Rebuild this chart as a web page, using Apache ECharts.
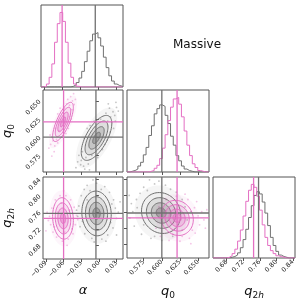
<!DOCTYPE html>
<html><head><meta charset="utf-8">
<script src="https://cdn.jsdelivr.net/npm/echarts@6/dist/echarts.min.js"></script>
<style>html,body{margin:0;padding:0;background:#fff}#c{width:307px;height:301px}</style>
</head><body><div id="c"></div>
<script>
// ---- axis ranges and ticks ----
const alphaRange = [-0.095, 0.041];
const q0Range = [0.552, 0.665];
const q2hRange = [0.647, 0.845];
const alphaTicks = [-0.09, -0.06, -0.03, 0.00, 0.03];
const q0Ticks = [0.575, 0.600, 0.625, 0.650];
const q2hTicks = [0.68, 0.72, 0.76, 0.80, 0.84];

// ---- histogram bins: [start, width], 30 bins ----
const alphaBins = [-0.095, 0.0045];
const q0Bins = [0.552, 0.00375];
const q2hBins = [0.647, 0.0066];

// ---- 1D histogram counts ----
const grayAlphaHist = [0,0,0,0,0,0,0,0,0,0,0,1,3,6,12,21,34,48,62,71,73,66,55,40,26,15,8,4,2,1];
const pinkAlphaHist = [0,1,4,13,31,60,85,100,88,60,32,13,4,1,0,0,0,0,0,0,0,0,0,0,0,0,0,0,0,0];
const grayQ0Hist = [0,1,2,4,8,13,23,33,49,62,78,85,90,88,76,65,48,36,22,15,8,4,2,1,0,0,0,0,0,0];
const pinkQ0Hist = [0,0,0,0,0,0,0,0,1,2,5,9,18,32,50,69,87,98,100,91,74,55,36,22,11,6,2,1,0,0];
const grayQ2hHist = [0,0,0,0,0,0,1,2,4,7,14,25,39,55,71,85,90,87,76,61,44,28,17,9,4,2,1,0,0,0];
const pinkQ2hHist = [0,0,0,0,0,1,3,6,12,23,38,57,77,92,100,96,84,65,45,28,17,10,6,3,2,1,0,0,0,0];

// ---- truth values [alpha, q0, q2h] ----
const truthGray = [-0.005, 0.600, 0.757];
const truthPink = [-0.060, 0.621, 0.745];

// ---- 2D contour shapes: [cx, cy, sx, sy, rho] ----
const grayAlphaQ0 = [-0.004, 0.599, 0.013, 0.0155, 0.64];
const pinkAlphaQ0 = [-0.061, 0.621, 0.0088, 0.0135, 0.74];
const grayAlphaQ2h = [-0.004, 0.757, 0.0125, 0.027, -0.05];
const pinkAlphaQ2h = [-0.061, 0.745, 0.0088, 0.025, -0.10];
const grayQ0Q2h = [0.599, 0.757, 0.0135, 0.025, -0.10];
const pinkQ0Q2h = [0.621, 0.745, 0.0112, 0.0215, -0.10];
const contourLevels = [2, 1.5, 1, 0.5];
const fillAlphas = [0.03, 0.14, 0.22, 0.38];
const haloLevel = 2.7, haloAlpha = 0.07;

// ---- scattered samples outside contours ----
const grayAlphaQ0Pts = [[0.020,0.628],[0.024,0.635],[0.018,0.640],[0.027,0.630],[0.015,0.622],[0.030,0.641],[0.022,0.620],[0.012,0.633],[0.028,0.622],[0.033,0.636],[-0.030,0.568],[-0.026,0.560],[-0.034,0.575],[-0.022,0.572],[-0.028,0.580],[-0.018,0.563],[-0.031,0.562],[-0.024,0.556],[-0.036,0.566],[0.006,0.583],[0.010,0.590],[-0.020,0.612],[-0.015,0.616],[0.014,0.596],[-0.025,0.598],[0.019,0.607],[-0.012,0.575],[0.003,0.625],[-0.008,0.622],[0.025,0.612],[-0.002,0.572],[0.029,0.648],[-0.039,0.558],[0.016,0.646],[-0.016,0.555]];
const pinkAlphaQ0Pts = [[-0.045,0.650],[-0.048,0.656],[-0.042,0.645],[-0.050,0.644],[-0.046,0.638],[-0.053,0.652],[-0.040,0.652],[-0.055,0.646],[-0.078,0.595],[-0.082,0.590],[-0.075,0.588],[-0.080,0.600],[-0.072,0.597],[-0.085,0.585],[-0.076,0.580],[-0.070,0.592],[-0.083,0.603],[-0.066,0.640],[-0.056,0.605],[-0.052,0.612],[-0.070,0.632],[-0.074,0.612],[-0.050,0.628],[-0.064,0.600],[-0.058,0.640],[-0.068,0.609],[-0.047,0.625],[-0.043,0.660],[-0.080,0.574]];
const grayAlphaQ2hPts = [[-0.030,0.800],[-0.025,0.815],[-0.020,0.825],[0.010,0.822],[0.018,0.808],[0.025,0.790],[0.028,0.770],[0.030,0.745],[0.024,0.722],[0.015,0.705],[0.005,0.695],[-0.012,0.697],[-0.024,0.708],[-0.032,0.725],[-0.036,0.750],[-0.034,0.775],[-0.004,0.830],[0.004,0.815],[-0.015,0.812],[0.020,0.735],[-0.028,0.738],[0.033,0.760],[-0.038,0.765],[0.012,0.690],[-0.008,0.688],[0.022,0.780],[-0.020,0.790],[0.036,0.785],[-0.010,0.838],[0.030,0.705]];
const pinkAlphaQ2hPts = [[-0.080,0.770],[-0.084,0.750],[-0.082,0.730],[-0.078,0.712],[-0.072,0.700],[-0.062,0.690],[-0.052,0.695],[-0.044,0.708],[-0.040,0.730],[-0.038,0.752],[-0.042,0.772],[-0.048,0.790],[-0.056,0.800],[-0.066,0.800],[-0.074,0.790],[-0.086,0.740],[-0.076,0.725],[-0.046,0.720],[-0.050,0.765],[-0.070,0.760],[-0.058,0.712],[-0.064,0.782],[-0.088,0.760],[-0.036,0.742],[-0.060,0.812],[-0.054,0.680],[-0.090,0.715]];
const grayQ0Q2hPts = [[0.560,0.760],[0.565,0.790],[0.570,0.805],[0.575,0.820],[0.590,0.828],[0.605,0.825],[0.620,0.808],[0.628,0.790],[0.632,0.772],[0.635,0.740],[0.628,0.715],[0.615,0.700],[0.600,0.690],[0.585,0.695],[0.572,0.705],[0.562,0.725],[0.556,0.745],[0.566,0.770],[0.580,0.812],[0.612,0.815],[0.596,0.835],[0.558,0.780],[0.640,0.760],[0.575,0.728],[0.622,0.728],[0.590,0.700],[0.555,0.800],[0.583,0.838]];
const pinkQ0Q2hPts = [[0.645,0.770],[0.650,0.750],[0.652,0.728],[0.646,0.708],[0.638,0.695],[0.625,0.688],[0.610,0.690],[0.598,0.700],[0.592,0.720],[0.590,0.745],[0.596,0.772],[0.606,0.790],[0.620,0.798],[0.636,0.790],[0.655,0.760],[0.658,0.740],[0.642,0.715],[0.632,0.803],[0.600,0.735],[0.615,0.705],[0.648,0.785],[0.660,0.720],[0.603,0.760],[0.628,0.700],[0.640,0.682],[0.662,0.765]];

// ---- styles ----
const GRAY = '#707070', GRAY_RGB = '110,110,110';
const PINK = '#e46fc3', PINK_RGB = '228,111,195';
const FONT = 'DejaVu Sans';

const gridsPos = [[41,5],[41,90],[127,90],[41,177],[127,177],[213,177]];
const grids = gridsPos.map(p => ({left:p[0], top:p[1], width:82, height:82, show:true,
  borderColor:'#555', borderWidth:1, backgroundColor:'transparent'}));

function fmt(v, d){ return (v < -1e-9 ? '\u2212' : '') + Math.abs(v).toFixed(d); }
const richName = {
  i:{fontStyle:'italic', fontSize:13, fontFamily:FONT, color:'#111'},
  s:{fontSize:9, fontFamily:FONT, color:'#111', padding:[8,0,0,0]},
  si:{fontSize:9, fontStyle:'italic', fontFamily:FONT, color:'#111', padding:[8,0,0,0]}
};
function valAxis(gi, range, ticks, dec, showLabel, name, isY){
  return {gridIndex:gi, type:'value', min:range[0], max:range[1],
    splitLine:{show:false}, axisLine:{show:false},
    axisTick:{show:true, length:3, lineStyle:{color:'#555'}, customValues:ticks},
    axisLabel:{show:showLabel, customValues:ticks, rotate:45, fontSize:6.5, fontFamily:FONT,
      color:'#222', margin:3, formatter: v => fmt(v, dec)},
    name: name || '', nameLocation:'middle', nameGap: isY ? 27 : 25,
    nameRotate: isY ? 90 : 0,
    nameTextStyle:{rich:richName}};
}
function histAxis(gi){
  return {gridIndex:gi, type:'value', min:0, max:110, show:true,
    splitLine:{show:false}, axisLine:{show:false}, axisTick:{show:false}, axisLabel:{show:false}};
}
const nameAlpha = '{i|\u03b1}';
const nameQ0 = '{i|q}{s|0}';
const nameQ2h = '{i|q}{s|2}{si|h}';

const xAxes = [
  valAxis(0, alphaRange, alphaTicks, 2, false),
  valAxis(1, alphaRange, alphaTicks, 2, false),
  valAxis(2, q0Range, q0Ticks, 3, false),
  valAxis(3, alphaRange, alphaTicks, 2, true, nameAlpha),
  valAxis(4, q0Range, q0Ticks, 3, true, nameQ0),
  valAxis(5, q2hRange, q2hTicks, 2, true, nameQ2h)
];
const yAxes = [
  histAxis(0),
  valAxis(1, q0Range, q0Ticks, 3, true, nameQ0, true),
  histAxis(2),
  valAxis(3, q2hRange, q2hTicks, 2, true, nameQ2h, true),
  valAxis(4, q2hRange, q2hTicks, 2, false, null, true),
  histAxis(5)
];

function histSeries(gi, bins, counts, color, z){
  const data = [[bins[0], 0]];
  counts.forEach((c, i) => data.push([bins[0] + i*bins[1], c]));
  const end = bins[0] + counts.length*bins[1];
  data.push([end, counts[counts.length-1]]);
  data.push([end, 0]);
  return {type:'line', xAxisIndex:gi, yAxisIndex:gi, data, step:'end', showSymbol:false,
    symbol:'none', silent:true, clip:true, z, lineStyle:{color, width:1}};
}
function ellipsePoints(api, cx, cy, sx, sy, r, k){
  const c = Math.sqrt(1 - r*r), pts = [];
  for (let t = 0; t < 72; t++){
    const th = t/72*2*Math.PI, u = Math.cos(th), v = Math.sin(th);
    pts.push(api.coord([cx + k*sx*u, cy + k*sy*(r*u + c*v)]));
  }
  return pts;
}
function ellipseSeries(gi, p, color, rgb, z){
  const data = [[p[0], p[1], p[2], p[3], p[4], haloLevel, haloAlpha, 0]]
    .concat(contourLevels.map((k, j) => [p[0], p[1], p[2], p[3], p[4], k, fillAlphas[j], 1]));
  return {type:'custom', xAxisIndex:gi, yAxisIndex:gi, clip:true, silent:true, z, data,
    renderItem(params, api){
      const pts = ellipsePoints(api, api.value(0), api.value(1), api.value(2), api.value(3), api.value(4), api.value(5));
      const stroked = api.value(7) === 1;
      return {type:'polygon', shape:{points:pts},
        style:{fill:'rgba(' + rgb + ',' + api.value(6) + ')', stroke: stroked ? color : null, lineWidth:1}};
    }};
}
function scatterSeries(gi, pts, rgb, z){
  return {type:'scatter', xAxisIndex:gi, yAxisIndex:gi, data:pts, symbolSize:1.8, silent:true, z,
    itemStyle:{color:'rgba(' + rgb + ',0.5)'}};
}
function truthSeries(gi, tx, ty, color, z){
  return {type:'custom', xAxisIndex:gi, yAxisIndex:gi, silent:true, z,
    data:[[tx, ty == null ? 0 : ty]],
    renderItem(params, api){
      const cs = params.coordSys;
      const p = api.coord([api.value(0), api.value(1)]);
      const ch = [{type:'line', shape:{x1:p[0], y1:cs.y, x2:p[0], y2:cs.y + cs.height},
        style:{stroke:color, lineWidth:1.3}}];
      if (ty != null) ch.push({type:'line', shape:{x1:cs.x, y1:p[1], x2:cs.x + cs.width, y2:p[1]},
        style:{stroke:color, lineWidth:1.3}});
      return {type:'group', children:ch};
    }};
}

const series = [
  histSeries(0, alphaBins, grayAlphaHist, GRAY, 2), histSeries(0, alphaBins, pinkAlphaHist, PINK, 3),
  histSeries(2, q0Bins, grayQ0Hist, GRAY, 2), histSeries(2, q0Bins, pinkQ0Hist, PINK, 3),
  histSeries(5, q2hBins, grayQ2hHist, GRAY, 2), histSeries(5, q2hBins, pinkQ2hHist, PINK, 3),
  truthSeries(0, truthGray[0], null, GRAY, 5), truthSeries(0, truthPink[0], null, PINK, 6),
  truthSeries(2, truthGray[1], null, GRAY, 5), truthSeries(2, truthPink[1], null, PINK, 6),
  truthSeries(5, truthGray[2], null, GRAY, 5), truthSeries(5, truthPink[2], null, PINK, 6),
  scatterSeries(1, grayAlphaQ0Pts, GRAY_RGB, 1), scatterSeries(1, pinkAlphaQ0Pts, PINK_RGB, 1),
  ellipseSeries(1, grayAlphaQ0, GRAY, GRAY_RGB, 2), ellipseSeries(1, pinkAlphaQ0, PINK, PINK_RGB, 3),
  truthSeries(1, truthGray[0], truthGray[1], GRAY, 5), truthSeries(1, truthPink[0], truthPink[1], PINK, 6),
  scatterSeries(3, grayAlphaQ2hPts, GRAY_RGB, 1), scatterSeries(3, pinkAlphaQ2hPts, PINK_RGB, 1),
  ellipseSeries(3, grayAlphaQ2h, GRAY, GRAY_RGB, 2), ellipseSeries(3, pinkAlphaQ2h, PINK, PINK_RGB, 3),
  truthSeries(3, truthGray[0], truthGray[2], GRAY, 5), truthSeries(3, truthPink[0], truthPink[2], PINK, 6),
  scatterSeries(4, grayQ0Q2hPts, GRAY_RGB, 1), scatterSeries(4, pinkQ0Q2hPts, PINK_RGB, 1),
  ellipseSeries(4, grayQ0Q2h, GRAY, GRAY_RGB, 2), ellipseSeries(4, pinkQ0Q2h, PINK, PINK_RGB, 3),
  truthSeries(4, truthGray[1], truthGray[2], GRAY, 5), truthSeries(4, truthPink[1], truthPink[2], PINK, 6)
];

const chart = echarts.init(document.getElementById('c'), null, {renderer:'canvas'});
chart.setOption({
  animation:false,
  backgroundColor:'#fff',
  title:{text:'Massive', left:168, top:34, textStyle:{fontSize:12, fontWeight:'normal', fontFamily:FONT, color:'#111'}},
  grid:grids, xAxis:xAxes, yAxis:yAxes, series
});
</script></body></html>
